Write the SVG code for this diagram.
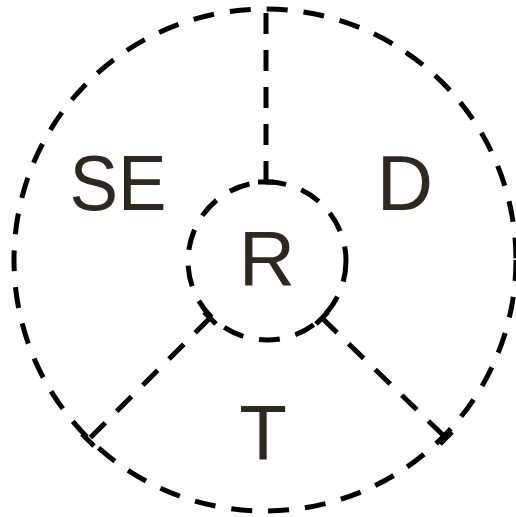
<svg xmlns="http://www.w3.org/2000/svg" width="516" height="517" viewBox="0 0 516 517">
<style>
.d{fill:none;stroke:#000;stroke-width:5;stroke-dasharray:21 16}
.t{fill:none;stroke:#000;stroke-width:5}
.l{font-family:"Liberation Sans",Arial,sans-serif;font-size:78px;fill:#2d2820;text-anchor:middle}
</style>
<rect width="516" height="517" fill="#fff"/>
<g id="outer"><circle class="d" cx="265" cy="260" r="251"/></g>
<g id="inner"><circle class="d" cx="267" cy="261" r="79"/></g>
<g id="connectors">
<line class="d" x1="266" y1="182" x2="266" y2="9"/>
<line class="t" x1="258" y1="182" x2="274" y2="182"/>
<line class="d" x1="210" y1="318" x2="88" y2="440"/>
<line class="t" x1="204" y1="312" x2="216" y2="324"/>
<line class="t" x1="82" y1="434" x2="94" y2="446"/>
<line class="d" x1="322" y1="318" x2="446" y2="438"/>
<line class="t" x1="316" y1="324" x2="328" y2="312"/>
<line class="t" x1="440" y1="444" x2="452" y2="432"/>
</g>
<g id="SE"><text class="l" x="118" y="210" textLength="97" lengthAdjust="spacingAndGlyphs">SE</text></g>
<g id="D"><text class="l" x="405" y="210">D</text></g>
<g id="R"><text class="l" x="267" y="285">R</text></g>
<g id="T"><text class="l" x="263" y="460">T</text></g>
</svg>
